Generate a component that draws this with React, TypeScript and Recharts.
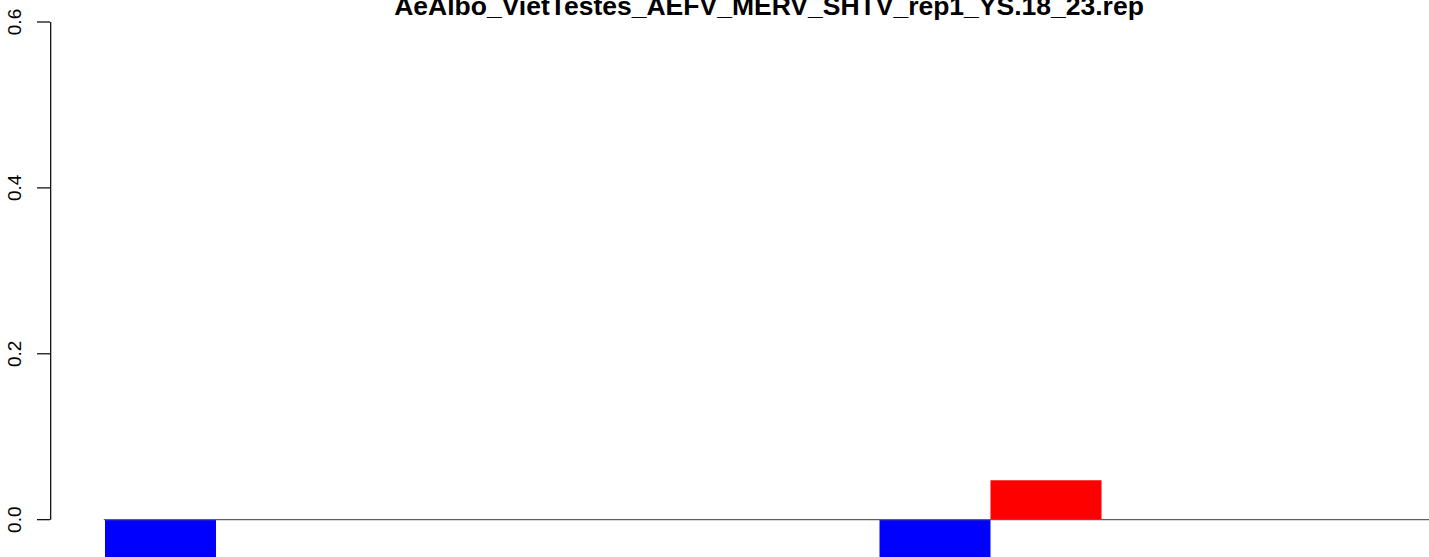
import React from 'react'
import { BarChart, Bar, XAxis, YAxis, ReferenceLine } from 'recharts'

const title = 'AeAlbo_VietTestes_AEFV_MERV_SHTV_rep1_YS.18_23.rep'
const groups = ['1', '2', '3', '4']
const blueValues = [-0.05, 0, -0.05, 0]
const redValues = [0, 0, 0.0474, 0]
const yTicks = [0, 0.2, 0.4, 0.6]

const chartData = groups.map((g, i) => ({ group: g, blue: blueValues[i], red: redValues[i], u: i / 3 }))

const font = "'Liberation Sans', Arial, Helvetica, sans-serif"

const YTick = ({ x, y, payload }: any) => {
  const tx = x - 29
  return (
    <g>
      <line x1={x - 13} x2={x} y1={y} y2={y} stroke="#000" strokeWidth={1.2} />
      <text
        x={tx}
        y={y}
        transform={`rotate(-90, ${tx}, ${y})`}
        textAnchor="middle"
        fill="#000"
        fontSize={19}
        fontFamily={font}
      >
        {Number(payload.value).toFixed(1)}
      </text>
    </g>
  )
}

export default function App() {
  return (
    <div style={{ position: 'fixed', left: 0, top: 0, width: 1429, height: 557, overflow: 'hidden', background: '#fff' }}>
      <div
        style={{
          position: 'absolute',
          left: 0,
          top: -7,
          width: 1538,
          textAlign: 'center',
          fontFamily: font,
          fontWeight: 700,
          fontSize: 26.5,
          lineHeight: '26px',
          color: '#000',
          zIndex: 2,
        }}
      >
        {title}
      </div>
      <BarChart
        width={1429}
        height={557}
        data={chartData}
        margin={{ top: 22, right: 0, bottom: 0, left: 0 }}
        barGap={0}
      >
        <XAxis dataKey="group" hide padding={{ left: -28, right: -142 }} />
        <XAxis xAxisId="u" dataKey="u" type="number" domain={[0, 1]} allowDataOverflow hide />
        <YAxis
          type="number"
          domain={[-0.045, 0.6]}
          ticks={yTicks}
          allowDataOverflow
          width={50}
          axisLine={false}
          tickLine={false}
          tickSize={0}
          tickMargin={0}
          tick={<YTick />}
        />
        <Bar dataKey="blue" fill="#0000FF" barSize={111} isAnimationActive={false} />
        <Bar dataKey="red" fill="#FF0000" barSize={111} isAnimationActive={false} />
        <ReferenceLine
          xAxisId="u"
          segment={[{ x: 0.0005, y: 0 }, { x: 0.0005, y: 0.6 }]}
          stroke="#000"
          strokeWidth={1.2}
          ifOverflow="visible"
        />
        <ReferenceLine
          xAxisId="u"
          segment={[{ x: 0.039, y: 0 }, { x: 1, y: 0 }]}
          stroke="#5f5f5f"
          strokeWidth={1.2}
          ifOverflow="visible"
        />
      </BarChart>
    </div>
  )
}
